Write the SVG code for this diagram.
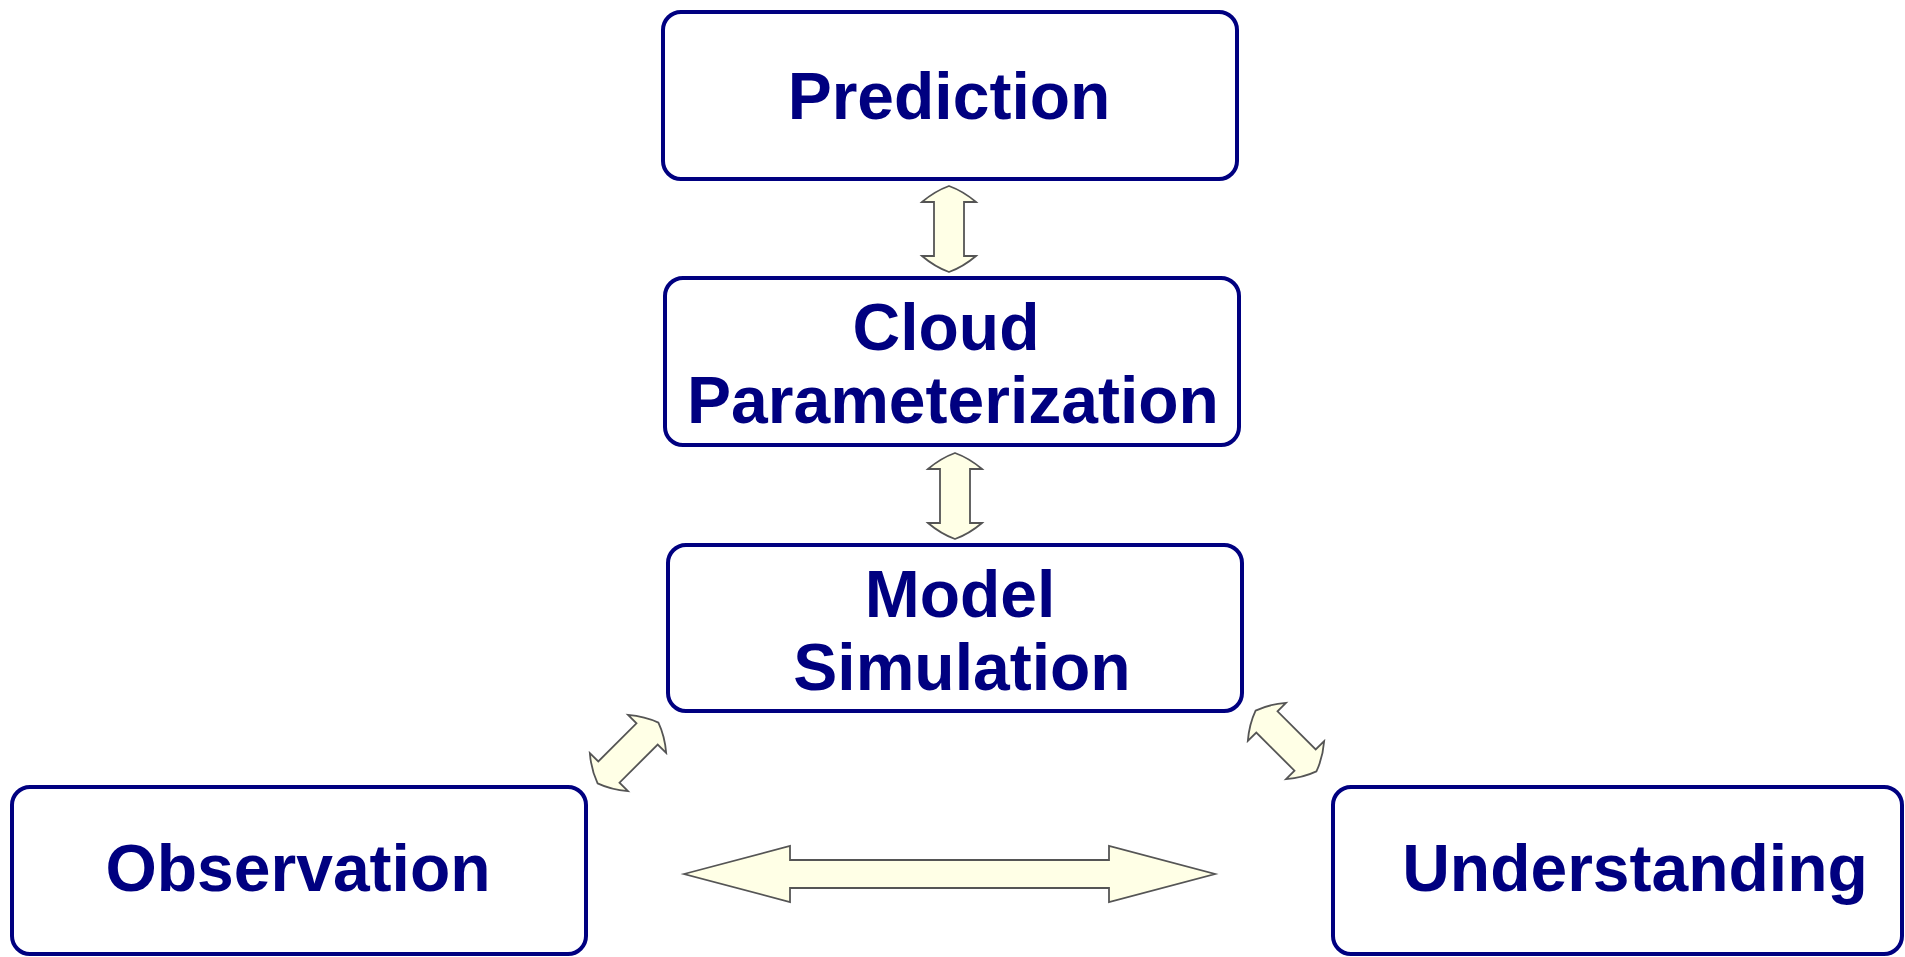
<svg xmlns="http://www.w3.org/2000/svg" width="1905" height="957" viewBox="0 0 1905 957">
<style>
.box{fill:#fff;stroke:#000080;stroke-width:4}
.lbl{font-family:"Liberation Sans",Arial,sans-serif;font-weight:bold;font-size:66px;fill:#000080;text-anchor:middle}
.arr{fill:#FFFFE6;stroke:#555;stroke-width:1.8;stroke-linejoin:miter}
</style>
<defs>
<path id="dbl" d="M0,-43 Q14,-38 27,-27 L15,-27 L15,27 L27,27 Q14,38 0,43 Q-14,38 -27,27 L-15,27 L-15,-27 L-27,-27 Q-14,-38 0,-43 Z"/>
</defs>
<rect width="1905" height="957" fill="#fff"/>
<g id="connectors">
<use href="#dbl" class="arr" transform="translate(949,229)"/>
<use href="#dbl" class="arr" transform="translate(955,496)"/>
<use href="#dbl" class="arr" transform="translate(628,753) rotate(45)"/>
<use href="#dbl" class="arr" transform="translate(1286,741) rotate(-45)"/>
<path class="arr" d="M684,874 L790,846 L790,860 L1109,860 L1109,846 L1215,874 L1109,902 L1109,888 L790,888 L790,902 Z"/>
</g>
<g id="prediction">
<rect class="box" x="663" y="12" width="574" height="167" rx="18"/>
<text class="lbl" x="949" y="119">Prediction</text>
</g>
<g id="cloud">
<rect class="box" x="665" y="278" width="574" height="167" rx="18"/>
<text class="lbl" x="946" y="350">Cloud</text>
<text class="lbl" x="953" y="423">Parameterization</text>
</g>
<g id="model">
<rect class="box" x="668" y="545" width="574" height="166" rx="18"/>
<text class="lbl" x="960" y="617">Model</text>
<text class="lbl" x="962" y="690">Simulation</text>
</g>
<g id="observation">
<rect class="box" x="12" y="787" width="574" height="167" rx="18"/>
<text class="lbl" x="298" y="891">Observation</text>
</g>
<g id="understanding">
<rect class="box" x="1333" y="787" width="569" height="167" rx="18"/>
<text class="lbl" x="1635" y="891">Understanding</text>
</g>
</svg>
